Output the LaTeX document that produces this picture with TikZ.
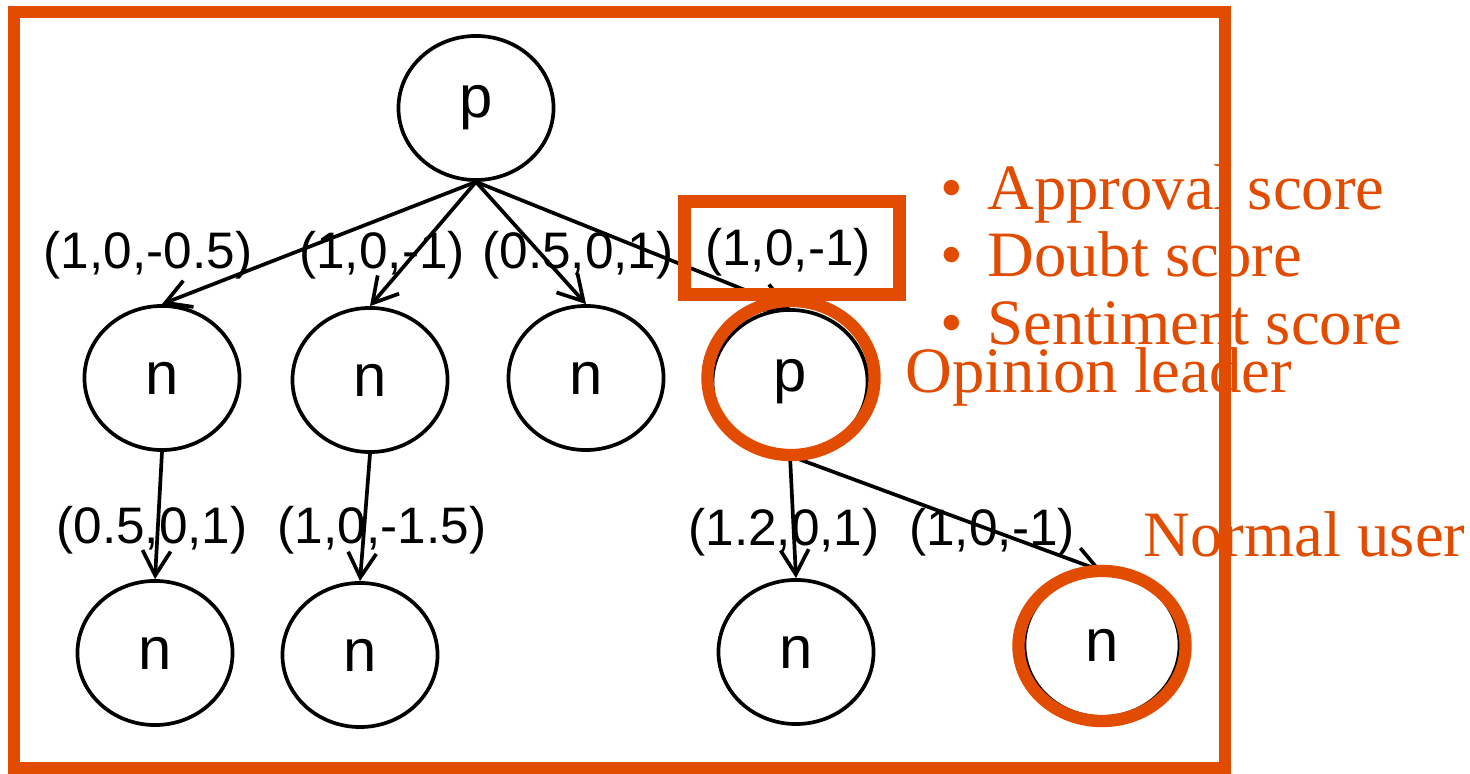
\documentclass[tikz,border=0pt]{standalone}
\usepackage{fontspec}
\setmainfont{Liberation Sans}
\newfontfamily\notefont{Liberation Serif}
\usetikzlibrary{shapes.geometric, arrows.meta, positioning}
\definecolor{hiorange}{RGB}{225,76,0}
\tikzset{
    usr/.style={ellipse, draw=black, line width=1.05pt, minimum width=1.55cm,
                minimum height=1.44cm, inner sep=0pt, font=\fontsize{17}{19}\selectfont},
    arrow/.style={-{Straight Barb[length=7pt, width=8pt]}, line width=1.05pt},
    wlbl/.style={font=\fontsize{14.6}{16}\selectfont, inner sep=0pt},
    hilite/.style={draw=hiorange, line width=3.5pt},
    note/.style={text=hiorange, anchor=base west, inner sep=0pt,
                 font=\notefont\fontsize{18.4}{20}\selectfont},
}

\begin{document}
\begin{tikzpicture}[x=0.01cm, y=-0.01cm]
        \useasboundingbox (0,0) rectangle (1470,774);
        % users
        \node[usr] (root) at (476,108) {p};
        \node[usr] (n1) at (162,378) {n};
        \node[usr] (n2) at (370,380) {n};
        \node[usr] (n3) at (586,378) {n};
        \node[usr] (lead) at (790,382) {p};
        \node[usr] (n11) at (155,653) {n};
        \node[usr] (n21) at (360,655) {n};
        \node[usr] (m1) at (796,652) {n};
        \node[usr] (m2) at (1102,645) {n};
        % reposts
        \foreach \c in {n1, n2, n3, lead} {
            \draw[arrow] (root.south) -- (\c.north);
        }
        \draw[arrow] (n1.south) -- (n11.north);
        \draw[arrow] (n2.south) -- (n21.north);
        \draw[arrow] (lead.south) -- (m1.north);
        \draw[arrow] (lead.south) -- (m2.north);
        % scores
        \node[wlbl] (w1) at (148,255) {(1,0,-0.5)};
        \node[wlbl] (w2) at (382,255) {(1,0,-1)};
        \node[wlbl] (w3) at (578,255) {(0.5,0,1)};
        \node[wlbl] (w4) at (788,252) {(1,0,-1)};
        \node[wlbl] (w11) at (152,530) {(0.5,0,1)};
        \node[wlbl] (w21) at (382,530) {(1,0,-1.5)};
        \node[wlbl] (wm1) at (784,532) {(1.2,0,1)};
        \node[wlbl] (wm2) at (992,532) {(1,0,-1)};
        % highlights
        \draw[hilite] (14,12) rectangle (1225,768);
        \node[hilite, rectangle, minimum width=2.15cm, minimum height=0.93cm] (wbox) at (792,248) {};
        \node[hilite, ellipse, minimum width=1.67cm, minimum height=1.54cm] (leadring) at (791,378) {};
        \node[hilite, ellipse, minimum width=1.67cm, minimum height=1.5cm] (m2ring) at (1102,646) {};
        \node[note] (approval) at (940,210) {\textbullet\hspace{0.24cm}Approval score};
        \node[note] (doubt) at (940,277) {\textbullet\hspace{0.24cm}Doubt score};
        \node[note] (sentiment) at (940,345) {\textbullet\hspace{0.24cm}Sentiment score};
        \node[note] (leaderlbl) at (905,393) {Opinion leader};
        \node[note] (normallbl) at (1143,557) {Normal user};
    \end{tikzpicture}
\end{document}
